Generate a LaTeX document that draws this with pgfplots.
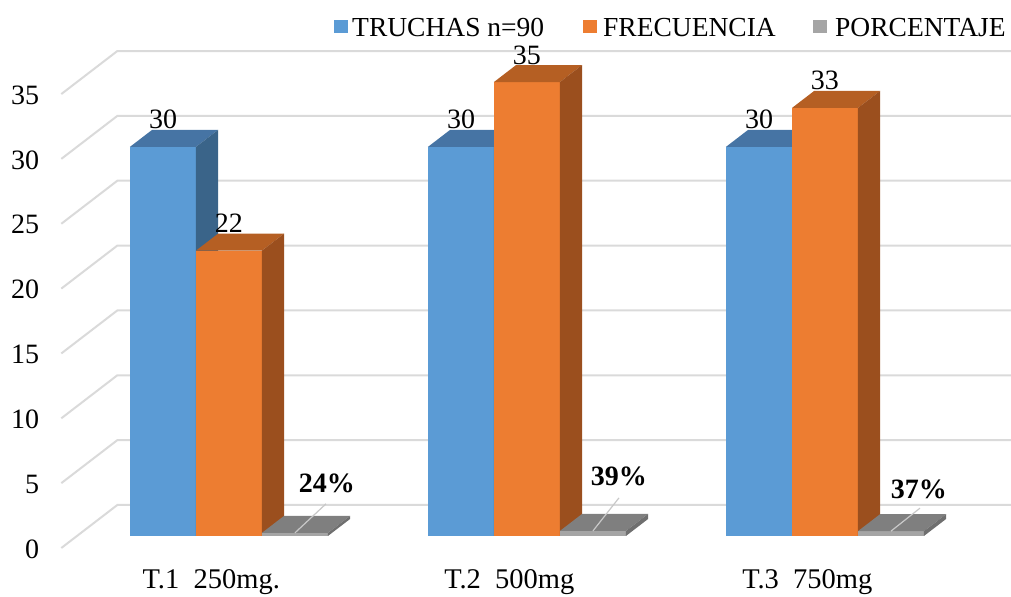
\documentclass[border=0pt]{standalone}
\usepackage{pgfplots}
\pgfplotsset{compat=1.18}
\usepackage{fontspec}
\setmainfont{Liberation Serif}

\definecolor{blueF}{HTML}{5B9BD5}
\definecolor{blueT}{HTML}{4674A4}
\definecolor{blueS}{HTML}{3A6489}
\definecolor{oraF}{HTML}{ED7D31}
\definecolor{oraT}{HTML}{B55F23}
\definecolor{oraS}{HTML}{9B4F1E}
\definecolor{grayF}{HTML}{A5A5A5}
\definecolor{grayT}{HTML}{7F7F7F}
\definecolor{grayS}{HTML}{6F6F6F}
\definecolor{gridc}{HTML}{DADADA}
\definecolor{leadc}{HTML}{C8C8C8}

\newcommand{\fsTick}{\fontsize{28bp}{32bp}\selectfont}
\newcommand{\fsCat}{\fontsize{28.5bp}{32bp}\selectfont}
\newcommand{\fsVal}{\fontsize{28bp}{32bp}\selectfont}
\newcommand{\fsLeg}{\fontsize{27.5bp}{32bp}\selectfont}

% depth of the columns (0 = front edge of the floor, 1 = back wall)
\newcommand{\dF}{0.28}
\newcommand{\dB}{0.675}

% one 3-D column: left x, right x, value, front / top / side colours
\newcommand{\drawcolumn}[6]{%
  \addplot3[fill=#4, draw=none] coordinates {(#1,\dF,0) (#2,\dF,0) (#2,\dF,#3) (#1,\dF,#3)};
  \addplot3[fill=#5, draw=none] coordinates {(#1,\dF,#3) (#2,\dF,#3) (#2,\dB,#3) (#1,\dB,#3)};
  \addplot3[fill=#6, draw=none] coordinates {(#2,\dF,0) (#2,\dB,0) (#2,\dB,#3) (#2,\dF,#3)};
}

\begin{document}
\begin{tikzpicture}
\begin{axis}[
  x={(298bp,0bp)}, y={(56bp,43bp)}, z={(0bp,12.97bp)},
  xmin=0.49, xmax=3.6, ymin=0, ymax=1, zmin=0, zmax=35,
  hide axis, clip=false,
]
  % walls: back-wall and side-wall grid lines with value labels
  \pgfplotsinvokeforeach{0,5,...,35}{
    \addplot3[gridc, line width=2bp] coordinates {(0.49,0,#1) (0.49,1,#1) (3.6,1,#1)};
    \node[anchor=east, inner sep=0, xshift=-22bp, yshift=-1bp, font=\fsTick] at (axis cs:0.49,0,#1) {#1};
  }

  % T.1 250mg.
  \drawcolumn{0.6678}{0.8893}{30}{blueF}{blueT}{blueS}
  \drawcolumn{0.8893}{1.1107}{22}{oraF}{oraT}{oraS}
  \drawcolumn{1.1107}{1.3322}{0.24}{grayF}{grayT}{grayS}
  % T.2 500mg
  \drawcolumn{1.6678}{1.8893}{30}{blueF}{blueT}{blueS}
  \drawcolumn{1.8893}{2.1107}{35}{oraF}{oraT}{oraS}
  \drawcolumn{2.1107}{2.3322}{0.39}{grayF}{grayT}{grayS}
  % T.3 750mg
  \drawcolumn{2.6678}{2.8893}{30}{blueF}{blueT}{blueS}
  \drawcolumn{2.8893}{3.1107}{33}{oraF}{oraT}{oraS}
  \drawcolumn{3.1107}{3.3322}{0.37}{grayF}{grayT}{grayS}

  % value labels
  \node[anchor=base, inner sep=0, yshift=18bp, font=\fsVal] at (axis cs:0.7786,\dF,30) {30};
  \node[anchor=base, inner sep=0, yshift=18bp, font=\fsVal] at (axis cs:1.0000,\dF,22) {22};
  \node[anchor=base, inner sep=0, yshift=18bp, font=\fsVal] at (axis cs:1.7786,\dF,30) {30};
  \node[anchor=base, inner sep=0, yshift=18bp, font=\fsVal] at (axis cs:2.0000,\dF,35) {35};
  \node[anchor=base, inner sep=0, yshift=18bp, font=\fsVal] at (axis cs:2.7786,\dF,30) {30};
  \node[anchor=base, inner sep=0, yshift=18bp, font=\fsVal] at (axis cs:3.0000,\dF,33) {33};

  % percentage labels with leader lines
  \draw[leadc, line width=1.2bp] (axis cs:1.2214,\dF,0.24) -- ++(31bp,29bp);
  \node[anchor=base, inner sep=0, xshift=32bp, yshift=40bp, font=\fsVal\bfseries] at (axis cs:1.2214,\dF,0.24) {24\%};
  \draw[leadc, line width=1.2bp] (axis cs:2.2214,\dF,0.39) -- ++(26bp,33bp);
  \node[anchor=base, inner sep=0, xshift=26bp, yshift=45bp, font=\fsVal\bfseries] at (axis cs:2.2214,\dF,0.39) {39\%};
  \draw[leadc, line width=1.2bp] (axis cs:3.2214,\dF,0.37) -- ++(29bp,23bp);
  \node[anchor=base, inner sep=0, xshift=28bp, yshift=33bp, font=\fsVal\bfseries] at (axis cs:3.2214,\dF,0.37) {37\%};

  % category labels
  \node[anchor=base, inner sep=0, xshift=-2bp, yshift=-40bp, font=\fsCat] at (axis cs:1,0,0) {T.1\ \ 250mg.};
  \node[anchor=base, inner sep=0, xshift=-2bp, yshift=-40bp, font=\fsCat] at (axis cs:2,0,0) {T.2\ \ 500mg};
  \node[anchor=base, inner sep=0, xshift=-2bp, yshift=-40bp, font=\fsCat] at (axis cs:3,0,0) {T.3\ \ 750mg};

  \coordinate (R) at (axis cs:1,0,0);
\end{axis}

% legend
\fill[blueF] ([shift={(120.7bp,515bp)}]R) rectangle ++(14bp,13bp);
\node[anchor=base west, inner sep=0, font=\fsLeg] at ([shift={(138.7bp,511bp)}]R) {TRUCHAS n=90};
\fill[oraF] ([shift={(369.7bp,515bp)}]R) rectangle ++(14bp,13bp);
\node[anchor=base west, inner sep=0, font=\fsLeg] at ([shift={(389.7bp,511bp)}]R) {FRECUENCIA};
\fill[grayF] ([shift={(599.7bp,515bp)}]R) rectangle ++(14bp,13bp);
\node[anchor=base west, inner sep=0, font=\fsLeg] at ([shift={(621.7bp,511bp)}]R) {PORCENTAJE};

\pgfresetboundingbox
\path ([shift={(-213.3bp,-49bp)}]R) rectangle ++(1011bp,597bp);
\end{tikzpicture}
\end{document}
